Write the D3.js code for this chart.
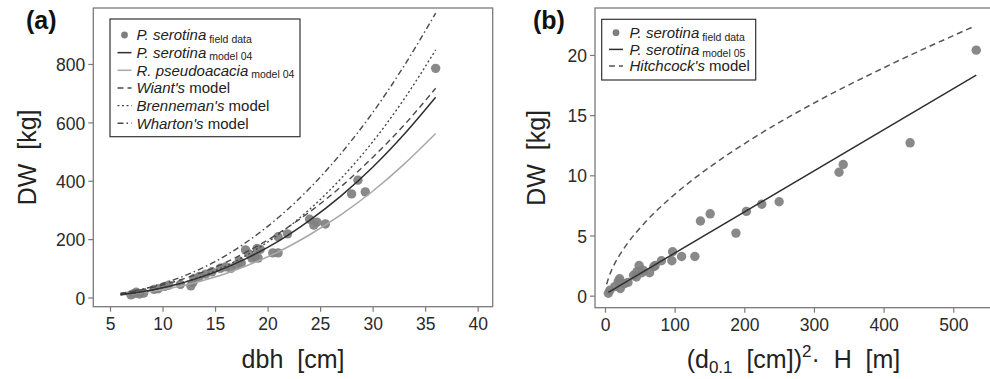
<!DOCTYPE html>
<html>
<head>
<meta charset="utf-8">
<script src="https://cdnjs.cloudflare.com/ajax/libs/d3/7.8.5/d3.min.js"></script>
<style>
  html, body { margin: 0; padding: 0; background: #fff; }
  svg { display: block; }
  text { font-family: "Liberation Sans", Arial, Helvetica, sans-serif; }
</style>
</head>
<body>
<div id="chart"></div>
<script>
// ---------------- Panel (a) data ----------------
const aXTicks = [5, 10, 15, 20, 25, 30, 35, 40];
const aYTicks = [0, 200, 400, 600, 800];
const aDbh            = [6, 9, 12, 15, 18, 21, 24, 27, 30, 33, 36];
const aSerotina04     = [10, 26, 51, 87, 134, 192, 264, 348, 446, 559, 686];
const aPseudoacacia04 = [8, 21, 41, 70, 109, 156, 215, 284, 364, 457, 562];
const aWiant          = [14, 34, 64, 104, 156, 219, 293, 380, 480, 591, 717];
const aBrenneman      = [9, 25, 52, 91, 145, 215, 302, 408, 533, 680, 848];
const aWharton        = [14, 37, 73, 123, 190, 273, 374, 494, 633, 794, 974];
// P. serotina field data
const aFieldDbh = [7.0, 7.3, 7.5, 7.8, 8.2, 9.2, 9.6, 10.2, 10.6, 11.7, 12.7, 12.9, 13.0, 13.5, 14.1, 14.7, 15.5, 16.0, 16.5, 17.0, 17.3, 17.5, 17.9, 18.2, 18.5, 18.8, 19.0, 19.3, 19.1, 20.5, 21.0, 21.0, 21.9, 24.0, 24.4, 24.7, 25.5, 28.0, 28.6, 29.3, 36.0];
const aFieldDW  = [9, 14, 18, 12, 15, 28, 30, 38, 42, 45, 40, 52, 65, 72, 80, 88, 100, 105, 100, 110, 125, 118, 163, 150, 135, 140, 168, 165, 135, 153, 153, 208, 218, 268, 248, 258, 252, 355, 402, 362, 785];

// ---------------- Panel (b) data ----------------
const bXTicks = [0, 100, 200, 300, 400, 500];
const bYTicks = [0, 5, 10, 15, 20];
const bFieldX = [4.8, 7, 14, 19, 21, 22, 28, 33, 41, 45, 46, 49, 53, 55, 64, 70, 72, 81, 96, 97, 110, 129, 137, 151, 188, 203, 225, 250, 336, 342, 438, 533];
const bFieldY = [0.2, 0.45, 0.75, 1.2, 1.4, 0.6, 1.0, 1.1, 1.7, 1.55, 2.0, 2.5, 1.9, 2.1, 1.9, 2.4, 2.5, 2.9, 2.9, 3.65, 3.25, 3.25, 6.2, 6.8, 5.2, 7.0, 7.6, 7.8, 10.25, 10.9, 12.7, 20.4];
const bModel05X = [4.8, 533];
const bModel05Y = [0.28, 18.33];
const bHitchX = [2.4, 5, 10, 20, 31, 60, 103, 150, 200, 300, 400, 531];
const bHitchY = [0.95, 1.46, 2.19, 3.28, 4.24, 6.24, 8.56, 10.67, 12.62, 16.0, 18.93, 22.4];

// ---------------- Drawing ----------------
const W = 990, H = 379;
const svg = d3.select("#chart").append("svg").attr("width", W).attr("height", H);
svg.append("rect").attr("width", W).attr("height", H).attr("fill", "#fff");

const boxColor = "#7a7a7a";
const tickColor = "#7a7a7a";
const labelColor = "#2a2a2a";
const pointColor = "#7f7f7f";

function panel(opts) {
  const g = svg.append("g");
  const x = d3.scaleLinear().domain(opts.xDomain).range([opts.left, opts.right]);
  const y = d3.scaleLinear().domain(opts.yDomain).range([opts.bottom, opts.top]);

  const clipId = "clip" + opts.id;
  svg.append("clipPath").attr("id", clipId).append("rect")
    .attr("x", opts.left).attr("y", opts.top)
    .attr("width", opts.right - opts.left).attr("height", opts.bottom - opts.top);

  const xa = g.append("g").attr("transform", `translate(0,${opts.bottom})`)
    .call(d3.axisBottom(x).tickValues(opts.xTicks).tickSize(5).tickPadding(6).tickFormat(d3.format("d")));
  const ya = g.append("g").attr("transform", `translate(${opts.left},0)`)
    .call(d3.axisLeft(y).tickValues(opts.yTicks).tickSize(5).tickPadding(3).tickFormat(d3.format("d")));
  [xa, ya].forEach(a => {
    a.select(".domain").remove();
    a.selectAll("line").attr("stroke", tickColor).attr("stroke-width", 1.2);
    a.selectAll("text").attr("fill", labelColor).style("font-size", "17.5px")
      .style("font-family", '"Liberation Sans", Arial, sans-serif');
  });
  ya.selectAll("text").attr("dy", "0.38em");

  g.append("rect").attr("x", opts.left).attr("y", opts.top)
    .attr("width", opts.right - opts.left).attr("height", opts.bottom - opts.top)
    .attr("fill", "none").attr("stroke", boxColor).attr("stroke-width", 1.3);

  const plot = g.append("g").attr("clip-path", `url(#${clipId})`);
  return { g, x, y, plot };
}

function drawLine(p, xs, ys, style) {
  const pts = xs.map((d, i) => [d, ys[i]]);
  const line = d3.line().x(d => p.x(d[0])).y(d => p.y(d[1])).curve(d3.curveMonotoneX);
  p.plot.append("path").attr("d", line(pts)).attr("fill", "none")
    .attr("stroke", style.color).attr("stroke-width", style.width)
    .attr("stroke-dasharray", style.dash || null);
}

function drawPoints(p, xs, ys) {
  p.plot.selectAll(null).data(xs.map((d, i) => [d, ys[i]])).enter().append("circle")
    .attr("cx", d => p.x(d[0])).attr("cy", d => p.y(d[1])).attr("r", 4.7)
    .attr("fill", pointColor).attr("fill-opacity", 0.92);
}

const styles = {
  ser:   { color: "#2f2f2f", width: 1.5 },
  pse:   { color: "#a8a8a8", width: 1.5 },
  wiant: { color: "#4a4a4a", width: 1.4, dash: "6,4" },
  brenn: { color: "#4a4a4a", width: 1.4, dash: "2,2.5" },
  whart: { color: "#4a4a4a", width: 1.4, dash: "6,3,1.5,3" },
  m05:   { color: "#2f2f2f", width: 1.5 },
  hitch: { color: "#555555", width: 1.5, dash: "6,4" }
};

// ----- Panel (a)
const pa = panel({ id: "a", left: 93.3, right: 492.7, top: 8, bottom: 306.7,
  xDomain: [3.41, 41.43], yDomain: [-31.5, 991.8], xTicks: aXTicks, yTicks: aYTicks });
drawPoints(pa, aFieldDbh, aFieldDW);
drawLine(pa, aDbh, aPseudoacacia04, styles.pse);
drawLine(pa, aDbh, aWharton, styles.whart);
drawLine(pa, aDbh, aBrenneman, styles.brenn);
drawLine(pa, aDbh, aWiant, styles.wiant);
drawLine(pa, aDbh, aSerotina04, styles.ser);

// ----- Panel (b)
const pb = panel({ id: "b", left: 595, right: 992, top: 8, bottom: 307.7,
  xDomain: [-14.36, 555.6], yDomain: [-1.0, 23.9], xTicks: bXTicks, yTicks: bYTicks });
drawPoints(pb, bFieldX, bFieldY);
drawLine(pb, bHitchX, bHitchY, styles.hitch);
drawLine(pb, bModel05X, bModel05Y, styles.m05);

// ----- Titles
function yTitle(xBase, yc) {
  svg.append("text").attr("transform", `translate(${xBase},${yc}) rotate(-90)`)
    .attr("text-anchor", "middle").attr("fill", "#222").style("font-size", "25px")
    .style("white-space", "pre").text("DW  [kg]");
}
yTitle(36, 157.4);
yTitle(545, 157.9);

svg.append("text").attr("x", 293).attr("y", 368).attr("text-anchor", "middle")
  .attr("fill", "#222").style("font-size", "25px").style("white-space", "pre").text("dbh  [cm]");

const bt = svg.append("text").attr("x", 793.5).attr("y", 368).attr("text-anchor", "middle")
  .attr("fill", "#222").style("font-size", "25px").style("white-space", "pre");
bt.append("tspan").text("(d");
bt.append("tspan").attr("dy", 5).style("font-size", "17px").text("0.1");
bt.append("tspan").attr("dy", -5).text("  [cm])");
bt.append("tspan").attr("dy", -11).style("font-size", "17px").text("2");
bt.append("tspan").attr("dy", 11).text("·  H  [m]");

svg.append("text").attr("x", 26).attr("y", 29).attr("fill", "#111")
  .style("font-size", "25px").style("font-weight", "bold").text("(a)");
svg.append("text").attr("x", 533).attr("y", 29).attr("fill", "#111")
  .style("font-size", "25px").style("font-weight", "bold").text("(b)");

// ----- Legends
function legend(box, rows) {
  const g = svg.append("g");
  g.append("rect").attr("x", box.x).attr("y", box.y).attr("width", box.w).attr("height", box.h)
    .attr("fill", "#fff").attr("stroke", "#333").attr("stroke-width", 1.2);
  rows.forEach((r, i) => {
    const cy = box.row0 + i * box.step;
    if (r.kind === "point") {
      g.append("circle").attr("cx", box.sym).attr("cy", cy).attr("r", 3.4).attr("fill", pointColor);
    } else {
      g.append("line").attr("x1", box.sym - 7).attr("x2", box.sym + 7).attr("y1", cy).attr("y2", cy)
        .attr("stroke", r.style.color).attr("stroke-width", r.style.width)
        .attr("stroke-dasharray", r.style.dash || null);
    }
    const t = g.append("text").attr("x", box.tx).attr("y", cy + 5.3).attr("fill", "#222")
      .style("font-size", "15px").style("white-space", "pre");
    t.append("tspan").style("font-style", "italic").text(r.it);
    if (r.sub) {
      t.append("tspan").style("font-size", "10.5px").attr("dy", 2.5).text(" " + r.sub);
    }
    if (r.rest) {
      t.append("tspan").text(r.rest);
    }
  });
}

legend({ x: 110, y: 19, w: 190, h: 117.7, row0: 35, step: 17.65, sym: 124.5, tx: 136.5 }, [
  { kind: "point", it: "P. serotina", sub: "field data" },
  { kind: "line", style: styles.ser, it: "P. serotina", sub: "model 04" },
  { kind: "line", style: styles.pse, it: "R. pseudoacacia", sub: "model 04" },
  { kind: "line", style: styles.wiant, it: "Wiant's", rest: " model" },
  { kind: "line", style: styles.brenn, it: "Brenneman's", rest: " model" },
  { kind: "line", style: styles.whart, it: "Wharton's", rest: " model" }
]);

legend({ x: 601.7, y: 19.3, w: 154, h: 60.7, row0: 32.7, step: 16.7, sym: 616, tx: 629.5 }, [
  { kind: "point", it: "P. serotina", sub: "field data" },
  { kind: "line", style: styles.m05, it: "P. serotina", sub: "model 05" },
  { kind: "line", style: styles.hitch, it: "Hitchcock's", rest: " model" }
]);
</script>
</body>
</html>
